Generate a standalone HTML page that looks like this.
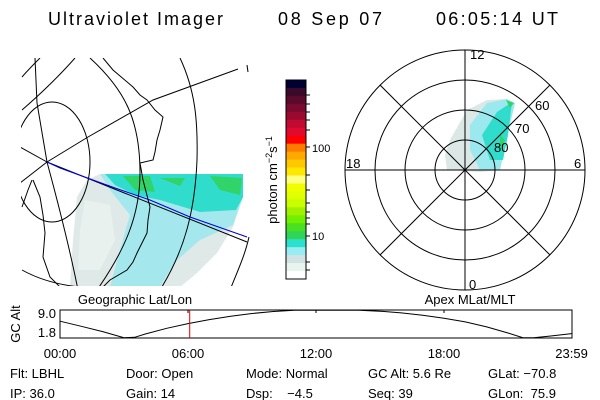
<!DOCTYPE html>
<html><head><meta charset="utf-8">
<style>
body{margin:0;background:#fff;width:600px;height:400px;overflow:hidden;font-family:"Liberation Sans",sans-serif}
svg{display:block}
text{font-family:"Liberation Sans",sans-serif;fill:#000}
</style></head>
<body>
<svg id="root" width="600" height="400" viewBox="0 0 600 400">
<g font-size="18">
<text x="48" y="25" textLength="175">Ultraviolet Imager</text>
<text x="278" y="25" textLength="104">08 Sep 07</text>
<text x="436" y="25" textLength="122">06:05:14 UT</text>
</g>

<defs><clipPath id="mapclip"><rect x="21" y="58" width="229" height="228"/></clipPath></defs>
<g clip-path="url(#mapclip)">
<g>
<path d="M100,174 L243,174 L243,197 L233,227 L217,253 L197,273 L180,287 L70,287 L73,240 L77,197 L87,180 Z" fill="#dfe9e7"/>
<path d="M100,174 L243,174 L243,197 L233,225 L200,240 L175,262 L160,287 L110,287 L120,250 L130,215 L110,190 Z" fill="#a4e8ee"/>
<path d="M105,174 L243,174 L243,197 L236,210 L200,212 L160,200 L135,195 L115,185 Z" fill="#30dccc"/>
<path d="M123,176 L150,176 L155,192 L135,190 Z M210,176 L242,178 L240,195 L220,190 Z M160,178 L185,178 L180,186 Z" fill="#30d468"/>
<path d="M85,200 L110,205 L115,240 L100,270 L78,270 L80,230 Z" fill="#e9f1ee"/>
</g>
<g fill="none" stroke="#000" stroke-width="1">
<ellipse cx="52" cy="162" rx="38" ry="60"/>
<path d="M90,58 C125,90 140,120 140,173 C140,215 125,250 97,290"/>
<path d="M180,58 C195,90 198,120 197,160 C195,210 185,250 160,290"/>
<path d="M230,290 C238,270 245,255 249,237"/>
<path d="M47,162 L88,137 L153,100 L238,69"/>
<path d="M47,162 L247,242"/>
<path d="M47,162 L37,103 L35,58"/>
<path d="M47,162 C60,210 70,250 78,290"/>
<path d="M47,162 L20,183"/>
<path d="M47,162 L20,147"/>
<path d="M22,77 C28,70 34,64 40,58"/>
<path d="M22,110 C45,90 60,75 75,58"/>
<path d="M22,270 C40,280 60,285 80,287"/>
<path d="M247,65 L248,72"/>
</g>
<path d="M47,162 L60,168 L115,188 L150,200 L190,217 L210,224 L247,237" fill="none" stroke="#0000e0" stroke-width="1"/>
<path d="M103,58 L113,70 L133,87 L140,95 L147,100 L155,110 L163,117 L160,130 L157,140 L155,152 L153,160 L140,163 L143,180 L150,207 L148,220 L147,233 L137,253 L133,262 L127,270 L110,280 L103,287" fill="none" stroke="#000"/>
<path d="M32,180 L28,190 L22,207 M33,180 L40,197 L43,215 L45,233 L43,257 L50,277 L60,287" fill="none" stroke="#000"/>
</g>
<text x="135" y="304" font-size="13" text-anchor="middle">Geographic Lat/Lon</text>

<g id="colorbar"></g>
<text transform="translate(277,180) rotate(-90)" font-size="13" text-anchor="middle">photon cm<tspan font-size="9" dy="-5">−2</tspan><tspan dy="5">s</tspan><tspan font-size="9" dy="-5">−1</tspan></text>
<text x="312" y="152" font-size="11">100</text>
<text x="312" y="240" font-size="11">10</text>

<g>
<path d="M450,140 L467,110 L487,100 L507,99 L515,103 L507,137 L500,170 L480,172 L447,170 L445,155 Z" fill="#dbe8e6"/>
<path d="M470,125 L487,103 L507,99 L515,103 L507,137 L500,170 L480,170 L470,150 Z" fill="#9ce8ef"/>
<path d="M482,135 L497,112 L512,102 L508,135 L503,160 L490,160 Z" fill="#30dccc"/>
<path d="M506,100 L514,103 L510,108 Z M500,135 L505,140 L500,150 Z" fill="#30d468"/>
<g fill="none" stroke="#000">
<circle cx="465" cy="170" r="30"/><circle cx="465" cy="170" r="60"/><circle cx="465" cy="170" r="90"/><circle cx="465" cy="170" r="120"/>
<line x1="345" y1="170" x2="585" y2="170"/><line x1="465" y1="50" x2="465" y2="290"/>
<line x1="380" y1="85" x2="550" y2="255"/><line x1="380" y1="255" x2="550" y2="85"/>
</g>
<g font-size="13">
<text x="470" y="59">12</text>
<text x="346" y="168">18</text>
<text x="574" y="168">6</text>
<text x="469" y="289">0</text>
<text x="535" y="110">60</text>
<text x="515" y="133">70</text>
<text x="494" y="152">80</text>
</g>
</g>
<text x="470" y="304" font-size="13" text-anchor="middle">Apex MLat/MLT</text>

<g id="altchart">
<rect x="60" y="310" width="512" height="28" fill="none" stroke="#000"/>
<text transform="translate(20,324) rotate(-90)" font-size="13" text-anchor="middle">GC Alt</text>
</g>

<g font-size="13">
<text x="10" y="378">Flt: LBHL</text><text x="10" y="398">IP: 36.0</text>
<text x="126" y="378">Door: Open</text><text x="126" y="398">Gain: 14</text>
<text x="246" y="378">Mode: Normal</text><text x="246" y="398">Dsp:&#160;&#160;&#160;&#160;−4.5</text>
<text x="368" y="378">GC Alt: 5.6 Re</text><text x="368" y="398">Seq: 39</text>
<text x="488" y="378">GLat: −70.8</text><text x="488" y="398">GLon:&#160;&#160;75.9</text>
</g>
</svg>
<script>
var barColors=["#000033","#3a0a2a","#5a0a2a","#7a0a30","#9a0a30","#c00a30","#e00a30","#ff0000","#ff7a00","#ffa800","#ffc800","#ffe800","#ffff80","#f0ff00","#e0ff00","#c8ff00","#a0f000","#70f000","#48e020","#30d458","#2ce0d0","#98ecf4","#d2e2e2","#e8f4ee","#ffffff"];
var hours=[0,1,2,3,3.5,4,5,6,7,8,9,10,11,12,13,14,15,16,17,18,19,20,21,21.7,22.2,23,23.98];
var alts=[6.0,4.5,2.9,1.1,1.2,2.2,3.9,5.3,6.5,7.5,8.3,8.9,9.3,9.3,9.3,9.3,9.0,8.5,7.8,6.9,5.8,4.3,2.5,1.1,1.1,1.6,2.3];
var timeLabels=["00:00","06:00","12:00","18:00","23:59"];
var timeTicks=[0,6,12,18,23.98];
var altTickLabels=["9.0","1.8"];
var altTicks=[9.0,1.8];
var currentHour=6.08;
var NS="http://www.w3.org/2000/svg";
function mk(tag,at,parent){var e=document.createElementNS(NS,tag);for(var k in at)e.setAttribute(k,at[k]);parent.appendChild(e);return e;}
function xS(h){return 60+h/24*512;}
function yS(v){return 338-(v-1.0)/(9.35-1.0)*28;}
var cb=document.getElementById('colorbar');
var top0=80,bh=199/barColors.length;
barColors.forEach(function(c,i){
  var r=mk('rect',{x:286,y:(top0+i*bh).toFixed(2),width:20,height:(bh+0.5).toFixed(2),fill:c},cb);
  
  
});
var fr=mk('rect',{x:286,y:80,width:20,height:199,fill:'none',stroke:'#000'},cb);


[95,104,112,120,130,147,175,190,203,212,218,224,236,262,270].forEach(function(y){mk('line',{x1:306,x2:310,y1:y,y2:y,stroke:'#000'},cb);});
var ac=document.getElementById('altchart');
var d=hours.map(function(h,i){return (i?'L':'M')+xS(h).toFixed(1)+','+yS(alts[i]).toFixed(1);}).join(' ');
var p=mk('path',{d:d,fill:'none',stroke:'#000'},ac);


var cl=mk('line',{x1:xS(currentHour),x2:xS(currentHour),y1:310,y2:338,stroke:'#e00000'},ac);


timeTicks.forEach(function(t,i){
  if(i>0&&i<4){var tk=mk('line',{x1:xS(t),x2:xS(t),y1:310,y2:313,stroke:'#000'},ac);}
  var tx=mk('text',{x:xS(t),y:358,'font-size':13,'text-anchor':'middle'},ac);
  tx.textContent=timeLabels[i];
  
  
});
altTicks.forEach(function(v,i){
  var tx=mk('text',{x:56,y:[318,337][i],'font-size':13,'text-anchor':'end'},ac);
  tx.textContent=altTickLabels[i];
  
  
});
</script>
</body></html>
